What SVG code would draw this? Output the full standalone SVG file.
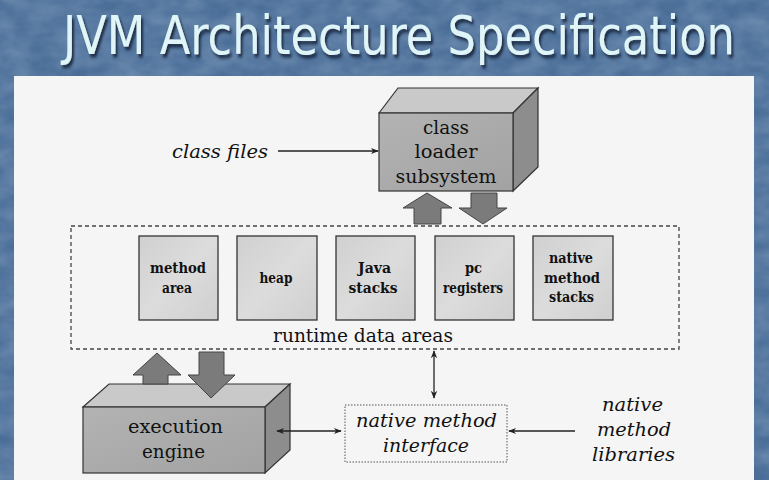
<svg xmlns="http://www.w3.org/2000/svg" width="769" height="480" viewBox="0 0 769 480">
<defs>
<filter id="tex" x="0" y="0" width="100%" height="100%">
<feTurbulence type="fractalNoise" baseFrequency="0.035 0.06" numOctaves="3" seed="7"/>
<feColorMatrix type="matrix" values="0 0 0 0 0.82  0 0 0 0 0.88  0 0 0 0 1  0 0 0 0.3 -0.06"/>
</filter>
<filter id="shadow" x="-5%" y="-20%" width="110%" height="150%">
<feDropShadow dx="2" dy="3" stdDeviation="1.2" flood-color="#15243a" flood-opacity="0.9"/>
</filter>
<linearGradient id="front" x1="0" y1="0" x2="1" y2="1">
<stop offset="0" stop-color="#b3b3b3"/>
<stop offset="1" stop-color="#a2a2a2"/>
</linearGradient>
<linearGradient id="inner" x1="0" y1="0" x2="1" y2="1">
<stop offset="0" stop-color="#d0d0d0"/>
<stop offset="0.5" stop-color="#dcdcdc"/>
<stop offset="1" stop-color="#cfcfcf"/>
</linearGradient>
<marker id="ah" viewBox="0 0 10 10" refX="9" refY="5" markerWidth="8" markerHeight="8" orient="auto-start-reverse" markerUnits="userSpaceOnUse">
<path d="M0,1 L10,5 L0,9 L3,5 Z" fill="#222"/>
</marker>
<style>
.face-front{fill:url(#front);stroke:#333;stroke-width:1.2}
.face-top{fill:#c9c9c9;stroke:#333;stroke-width:1.2}
.face-side{fill:#8d8d8d;stroke:#333;stroke-width:1.2}
.inner{fill:url(#inner);stroke:#333;stroke-width:1.3}
.blk{fill:#7b7b7b;stroke:#444;stroke-width:1}
.lbl{font-family:"DejaVu Serif","Liberation Serif",serif;fill:#111;text-anchor:middle}
.bold{font-weight:bold;font-size:14px}
.big{font-size:19px}
.it{font-style:italic;font-size:19px}
.conn{stroke:#222;stroke-width:1.3;fill:none}
</style>
</defs>
<rect x="0" y="0" width="769" height="480" fill="#4a6e98"/>
<rect x="0" y="0" width="769" height="480" filter="url(#tex)"/>
<g transform="translate(63,54) scale(1,1.14)">
<text x="0" y="0" font-family="'DejaVu Sans Condensed','Liberation Sans Narrow','DejaVu Sans',sans-serif" font-size="46" fill="#e0f5f8" textLength="672" lengthAdjust="spacingAndGlyphs" filter="url(#shadow)">JVM Architecture Specification</text>
</g>
<rect x="14" y="76" width="740" height="410" fill="#f5f5f5"/>

<g id="class-loader">
<path class="face-top" d="M379,113 L398,88 L538,88 L513,113 Z"/>
<path class="face-side" d="M513,113 L538,88 L538,167 L513,191 Z"/>
<rect class="face-front" x="379" y="113" width="134" height="78"/>
<text class="lbl big" x="446" y="134" textLength="46" lengthAdjust="spacingAndGlyphs">class</text>
<text class="lbl big" x="446" y="158" textLength="63" lengthAdjust="spacingAndGlyphs">loader</text>
<text class="lbl big" x="446" y="183" textLength="101" lengthAdjust="spacingAndGlyphs">subsystem</text>
</g>

<g id="class-files">
<text class="lbl it" x="220" y="158" textLength="96" lengthAdjust="spacingAndGlyphs">class files</text>
</g>

<g id="runtime-data-areas">
<rect x="71" y="226" width="608" height="123" fill="none" stroke="#444" stroke-width="1.3" stroke-dasharray="4,3"/>
<text class="lbl big" x="363" y="342" textLength="180" lengthAdjust="spacingAndGlyphs">runtime data areas</text>
</g>

<g id="method-area">
<rect class="inner" x="139" y="236" width="79" height="84"/>
<text class="lbl bold" x="178" y="273" textLength="56" lengthAdjust="spacingAndGlyphs">method</text>
<text class="lbl bold" x="177" y="293" textLength="30" lengthAdjust="spacingAndGlyphs">area</text>
</g>
<g id="heap">
<rect class="inner" x="237" y="236" width="80" height="84"/>
<text class="lbl bold" x="276" y="283" textLength="33" lengthAdjust="spacingAndGlyphs">heap</text>
</g>
<g id="java-stacks">
<rect class="inner" x="336" y="236" width="79" height="84"/>
<text class="lbl bold" x="374.5" y="273" textLength="33" lengthAdjust="spacingAndGlyphs">Java</text>
<text class="lbl bold" x="373" y="293" textLength="49" lengthAdjust="spacingAndGlyphs">stacks</text>
</g>
<g id="pc-registers">
<rect class="inner" x="435" y="236" width="79" height="84"/>
<text class="lbl bold" x="473.5" y="273" textLength="17" lengthAdjust="spacingAndGlyphs">pc</text>
<text class="lbl bold" x="473" y="293" textLength="60" lengthAdjust="spacingAndGlyphs">registers</text>
</g>
<g id="native-method-stacks">
<rect class="inner" x="533" y="236" width="80" height="84"/>
<text class="lbl bold" x="571" y="263" textLength="44" lengthAdjust="spacingAndGlyphs">native</text>
<text class="lbl bold" x="572" y="283" textLength="56" lengthAdjust="spacingAndGlyphs">method</text>
<text class="lbl bold" x="571.5" y="302" textLength="45" lengthAdjust="spacingAndGlyphs">stacks</text>
</g>

<g id="execution-engine">
<path class="face-top" d="M83,407 L109,384 L290,384 L265,407 Z"/>
<path class="face-side" d="M265,407 L290,384 L290,450 L265,473 Z"/>
<rect class="face-front" x="83" y="407" width="182" height="66"/>
<text class="lbl big" x="175.5" y="433" textLength="95" lengthAdjust="spacingAndGlyphs">execution</text>
<text class="lbl big" x="173.5" y="458" textLength="63" lengthAdjust="spacingAndGlyphs">engine</text>
</g>

<g id="native-method-interface">
<rect x="345" y="405" width="162" height="57" fill="none" stroke="#555" stroke-width="1" stroke-dasharray="1.5,1.5"/>
<text class="lbl it" x="426.5" y="427" textLength="141" lengthAdjust="spacingAndGlyphs">native method</text>
<text class="lbl it" x="426" y="452" textLength="86" lengthAdjust="spacingAndGlyphs">interface</text>
</g>

<g id="native-method-libraries">
<text class="lbl it" x="632.5" y="411" textLength="61" lengthAdjust="spacingAndGlyphs">native</text>
<text class="lbl it" x="634" y="436" textLength="74" lengthAdjust="spacingAndGlyphs">method</text>
<text class="lbl it" x="633.5" y="461" textLength="83" lengthAdjust="spacingAndGlyphs">libraries</text>
</g>

<g id="connectors">
<line class="conn" x1="278" y1="151" x2="378" y2="151" marker-end="url(#ah)"/>
<line class="conn" x1="434" y1="351" x2="434" y2="398" marker-start="url(#ah)" marker-end="url(#ah)"/>
<line class="conn" x1="277" y1="431" x2="341" y2="431" marker-start="url(#ah)" marker-end="url(#ah)"/>
<line class="conn" x1="575" y1="431" x2="509" y2="431" marker-end="url(#ah)"/>
<path class="blk" d="M414,224 L414,208 L403,208 L427,193 L452,208 L441,208 L441,224 Z"/>
<path class="blk" d="M471,193 L497,193 L497,208 L507,208 L483,224 L459,208 L471,208 Z"/>
<path class="blk" d="M143,384 L143,375 L133,375 L157,353 L181,375 L168,375 L168,384 Z"/>
<path class="blk" d="M199,352 L224,352 L224,375 L235,375 L211,398 L188,375 L199,375 Z"/>
</g>
</svg>
